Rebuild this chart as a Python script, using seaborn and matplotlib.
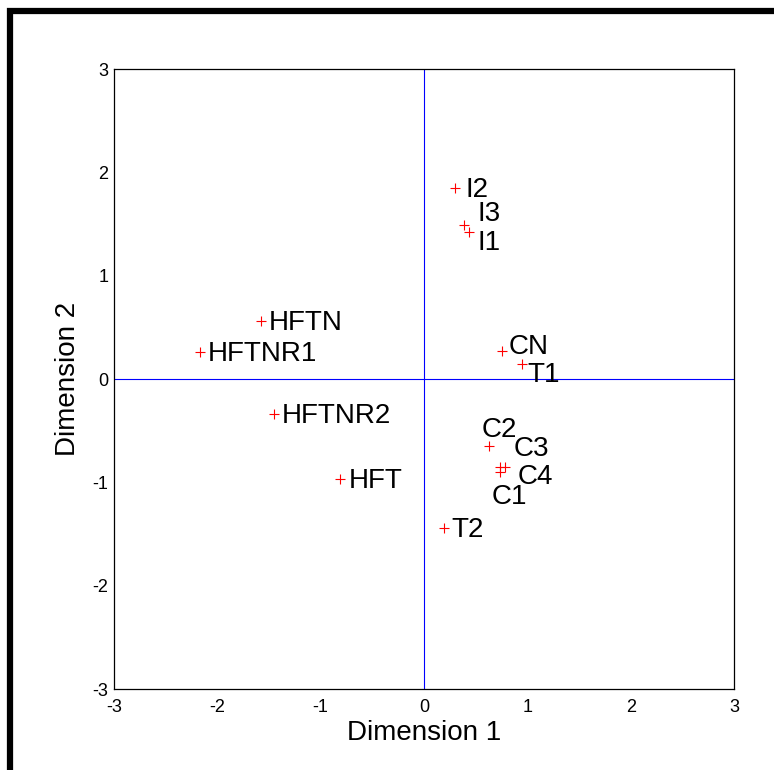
import numpy as np
import pandas as pd
import matplotlib
matplotlib.use("Agg")
import matplotlib.pyplot as plt
import seaborn as sns

# MDS coordinates
labels = ["I2", "I3", "I1", "CN", "T1", "C2", "C3", "C4", "C1", "T2",
          "HFTN", "HFTNR1", "HFTNR2", "HFT"]
dim1 = [0.30, 0.39, 0.44, 0.75, 0.95, 0.63, 0.78, 0.74, 0.74, 0.19,
        -1.58, -2.17, -1.45, -0.81]
dim2 = [1.85, 1.49, 1.42, 0.27, 0.15, -0.65, -0.85, -0.85, -0.90, -1.44,
        0.56, 0.26, -0.34, -0.97]

data = pd.DataFrame({"label": labels, "dim1": dim1, "dim2": dim2})

sns.set_style("white")
plt.rcParams["font.family"] = ["Liberation Sans", "DejaVu Sans"]
plt.rcParams["axes.unicode_minus"] = False
plt.rcParams["text.color"] = "black"
plt.rcParams["axes.labelcolor"] = "black"

fig = plt.figure(figsize=(7.74, 7.70), dpi=100)
ax = fig.add_axes([114 / 774, 81 / 770, 620 / 774, 620 / 770])

# blue reference lines through the origin
ax.axhline(0, color="blue", lw=0.8, zorder=1)
ax.axvline(0, color="blue", lw=0.8, zorder=1)

sns.scatterplot(data=data, x="dim1", y="dim2", marker="+", color="red",
                s=45, linewidth=0.8, ax=ax, zorder=3)

# label offsets in pixels (right, down); default is just right of the marker
offsets = {"I2": (10, 0), "I3": (13, -13), "I1": (8, 9), "CN": (7, -6),
           "T1": (5, 10), "C2": (-7, -18), "C3": (9, -20), "C4": (17, 8),
           "C1": (-9, 23)}
for _, row in data.iterrows():
    dx, dy = offsets.get(row["label"], (8, 0))
    dy += 2
    ax.annotate(row["label"], (row["dim1"], row["dim2"]),
                xytext=(dx * 0.72, -dy * 0.72), textcoords="offset points",
                ha="left", va="center", fontsize=20, color="black")

ax.set_xlim(-3, 3)
ax.set_ylim(-3, 3)
ax.set_xticks(range(-3, 4))
ax.set_yticks(range(-3, 4))
ax.tick_params(direction="in", length=4, width=0.8, labelsize=13,
               colors="black", top=False, right=False)
ax.tick_params(axis="x", pad=7)
ax.tick_params(axis="y", pad=4)
for sp in ax.spines.values():
    sp.set_color("black")
    sp.set_linewidth(0.9)

ax.set_xlabel("Dimension 1", fontsize=20, labelpad=3)
ax.set_ylabel("Dimension 2", fontsize=20, labelpad=8)

# thick black frame around the figure (cut at right and bottom)
fig.patches.append(plt.Rectangle((10 / 774, -0.2), 1.5, 1.2 - 10.5 / 770,
                                 transform=fig.transFigure, fill=False,
                                 edgecolor="black", lw=4.5))

fig.savefig("out.png", dpi=100)
